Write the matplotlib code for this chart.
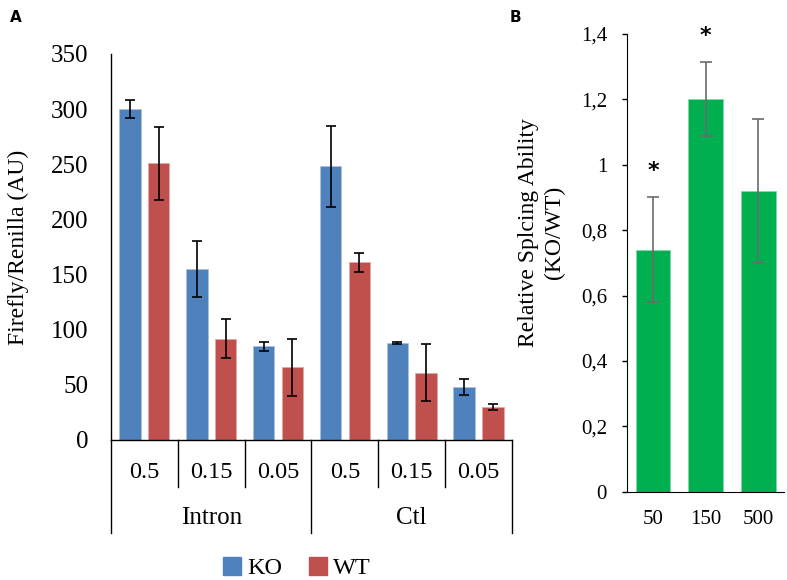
import numpy as np
import matplotlib
matplotlib.use("Agg")
import matplotlib.pyplot as plt
from matplotlib.patches import Patch

plt.rcParams["font.family"] = ["Liberation Serif", "DejaVu Serif"]

# Panel A data
groups = ["Intron", "Ctl"]
doses = ["0.5", "0.15", "0.05", "0.5", "0.15", "0.05"]
ko = [300, 155, 85, 248, 88, 48]
ko_err = [8, 25, 4, 37, 1, 7]
wt = [251, 92, 66, 161, 61, 30]
wt_err = [33, 18, 26, 9, 26, 2.5]

# Panel B data
conc = ["50", "150", "500"]
ratio = [0.74, 1.20, 0.92]
ratio_err = [0.16, 0.113, 0.22]
signif = [True, True, False]

blue = "#4F81BD"
red = "#C0504D"
green = "#00B050"

fig = plt.figure(figsize=(7.87, 5.80), dpi=100)

# ---- Panel A ----
ax = fig.add_axes([0.141, 0.2414, 0.5095, 0.6655])
x = np.arange(len(doses))
w = 0.32
ax.bar(x - 0.215, ko, w, yerr=ko_err, color=blue, edgecolor="#a9c0de", linewidth=0.6,
       error_kw=dict(ecolor="black", elinewidth=1.2, capsize=3.5, capthick=1.2))
ax.bar(x + 0.215, wt, w, yerr=wt_err, color=red, edgecolor="#e0a9a7", linewidth=0.6,
       error_kw=dict(ecolor="black", elinewidth=1.2, capsize=3.5, capthick=1.2))
ax.set_xlim(-0.5, len(doses) - 0.5)
ax.set_ylim(0, 350)
ax.set_yticks(np.arange(0, 351, 50))
ax.tick_params(axis="y", length=0, pad=16.5, labelsize=18)
ax.set_xticks([])
for s in ["top", "right"]:
    ax.spines[s].set_visible(False)
ax.spines["left"].set_linewidth(1.0)
ax.spines["bottom"].set_linewidth(1.0)
ax.set_ylabel("Firefly/Renilla (AU)", fontsize=17)
ax.yaxis.set_label_coords(-0.205, 0.5)

trans = ax.get_xaxis_transform()
for i, d in enumerate(doses):
    ax.text(i, -0.083, d, transform=trans, ha="center", va="center", fontsize=17.5)
for b in np.arange(-0.5, len(doses), 1.0):
    long = b in (-0.5, 2.5, 5.5)
    ax.plot([b, b], [0, -0.241 if long else -0.122], transform=trans,
            color="black", lw=1.0, clip_on=False)
for j, g in enumerate(groups):
    ax.text(1 + 3 * j, -0.202, g, transform=trans, ha="center", va="center", fontsize=18)

handles = [Patch(color=blue, label="KO"), Patch(color=red, label="WT")]
ax.legend(handles=handles, loc="center", bbox_to_anchor=(0.464, -0.332), ncol=2,
          frameon=False, fontsize=17.5, handlelength=0.75, handleheight=0.75,
          handletextpad=0.25, columnspacing=1.1)

fig.text(0.012, 0.982, "A", fontsize=11, fontweight="bold", family="DejaVu Sans",
         ha="left", va="top")

# ---- Panel B ----
bx = fig.add_axes([0.7963, 0.1522, 0.2005, 0.7892])
xb = np.arange(len(conc))
bx.bar(xb, ratio, 0.66, yerr=ratio_err, color=green, edgecolor="#7fd6a6", linewidth=0.6,
       error_kw=dict(ecolor="#6b6b6b", elinewidth=1.2, capsize=4, capthick=1.2))
for i, s in enumerate(signif):
    if s:
        bx.text(xb[i], ratio[i] + ratio_err[i] + 0.08, "*", ha="center", va="center",
                fontsize=16, fontweight="bold", family="DejaVu Sans")
bx.set_xlim(-0.5, len(conc) - 0.5)
bx.set_ylim(0, 1.4)
bticks = np.arange(0, 1.41, 0.2)
bx.set_yticks(bticks)
bx.set_yticklabels(["0", "0,2", "0,4", "0,6", "0,8", "1", "1,2", "1,4"])
bx.tick_params(axis="y", length=3.6, width=1.0, direction="out", pad=10.5, labelsize=15)
bx.set_xticks(xb)
bx.set_xticklabels(conc)
bx.tick_params(axis="x", length=0, pad=13, labelsize=15)
for s in ["top", "right"]:
    bx.spines[s].set_visible(False)
bx.set_ylabel("Relative Splcing Ability\n(KO/WT)", fontsize=17, linespacing=1.3)
bx.yaxis.set_label_coords(-0.39, 0.567)

fig.text(0.648, 0.982, "B", fontsize=11, fontweight="bold", family="DejaVu Sans",
         ha="left", va="top")

fig.savefig("out.png", dpi=100)
